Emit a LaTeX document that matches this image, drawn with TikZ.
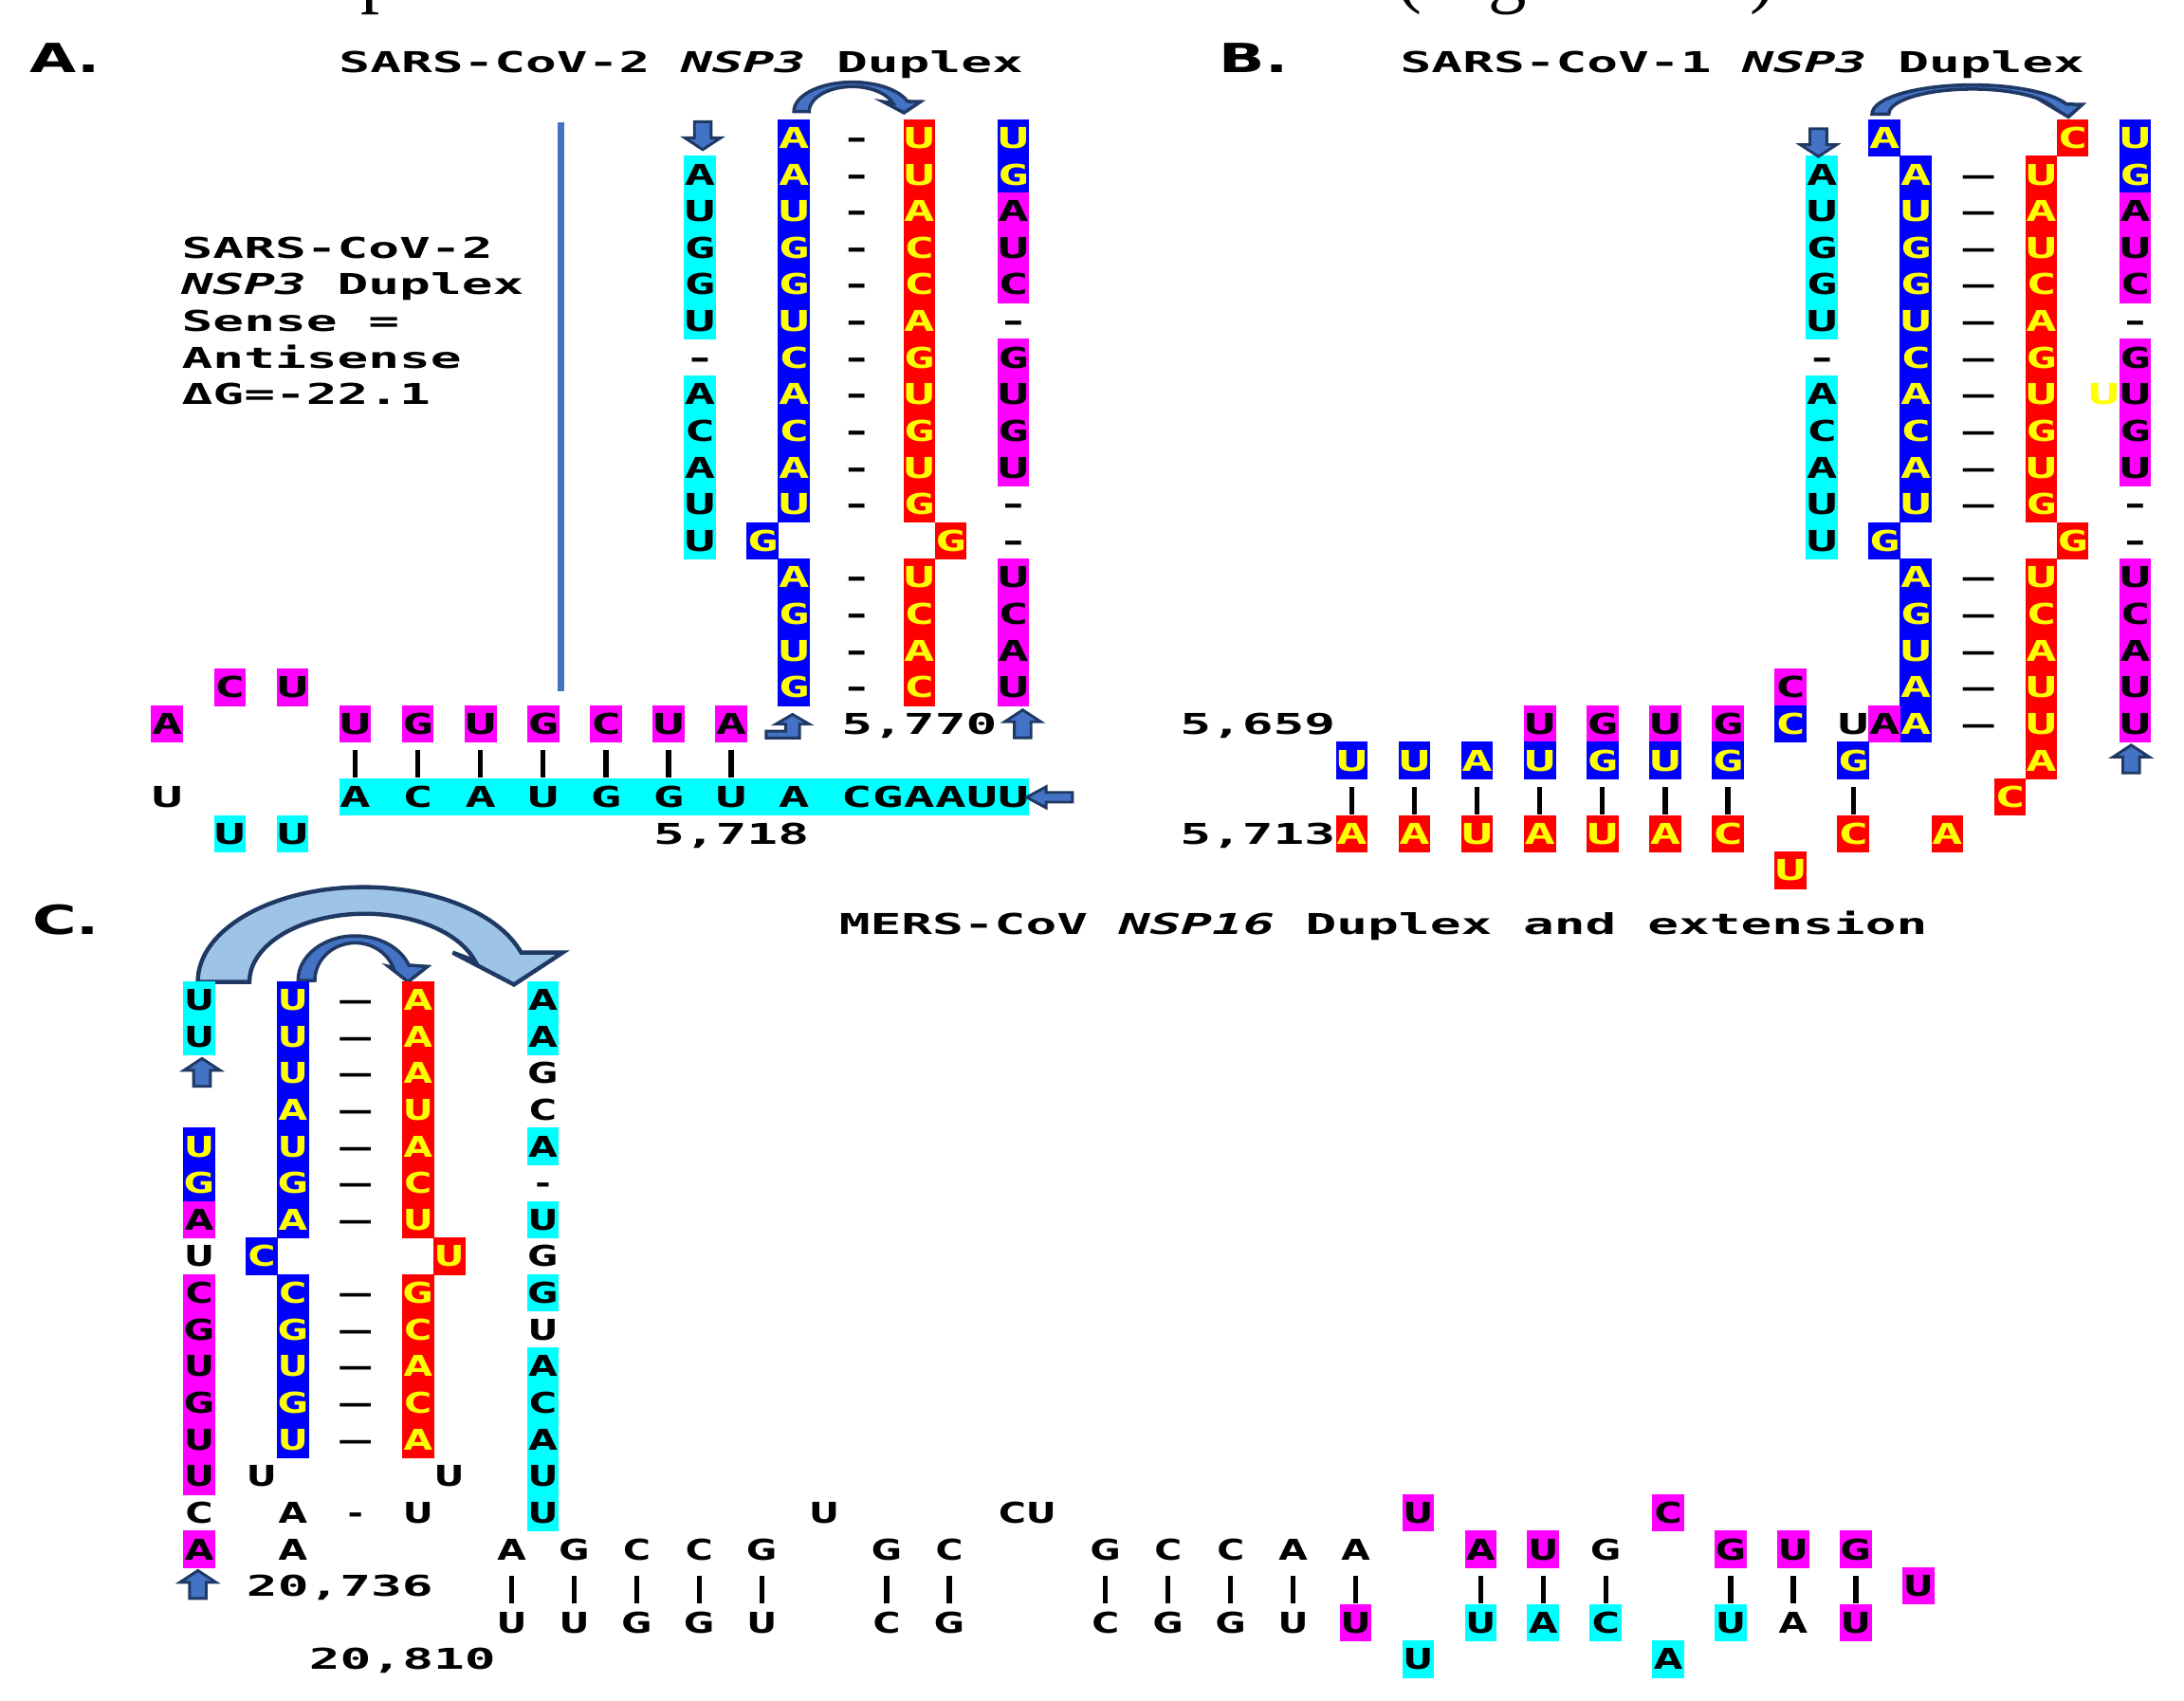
\documentclass[tikz,border=0pt]{standalone}
\usepackage{fontspec}
\newfontfamily\seqfont[FakeStretch=1.8]{DejaVu Sans Mono}
\newfontfamily\verfont[FakeStretch=1.3]{DejaVu Sans}
\newfontfamily\panfont[FakeStretch=1.5]{DejaVu Sans}
\newfontfamily\capfont{Liberation Serif}
\newcommand\cellfont{\seqfont\bfseries\fontsize{10.3}{12}\selectfont}

\definecolor{cycell}{HTML}{00FFFF}
\definecolor{blcell}{HTML}{0000FF}
\definecolor{rdcell}{HTML}{FF0000}
\definecolor{mgcell}{HTML}{FF00FF}
\definecolor{ylw}{HTML}{FFFF00}
\definecolor{navy}{HTML}{1F3864}
\definecolor{arrblue}{HTML}{4472C4}
\definecolor{lightarr}{HTML}{9DC3E6}

\tikzset{
   nt/.style={inner sep=0pt, text height=7.5pt, text depth=0pt, font=\cellfont,
      minimum width=11.45pt, minimum height=13.45pt},
   cy/.style={nt, fill=cycell, text=black},
   bl/.style={nt, fill=blcell, text=ylw},
   rd/.style={nt, fill=rdcell, text=ylw},
   mg/.style={nt, fill=mgcell, text=black},
   tx/.style={nt, text=black},
   yt/.style={nt, text=ylw},
   lbl/.style={inner sep=0pt, text height=7.5pt, text depth=0pt,
      font=\seqfont\bfseries\fontsize{10.3}{12}\selectfont},
   dsh/.style={tx, font=\seqfont\bfseries\fontsize{10.3}{12}\selectfont},
   title/.style={lbl, anchor=base west},
   panlab/.style={inner sep=0pt, anchor=base west,
      font=\panfont\bfseries\fontsize{14.4}{16}\selectfont},
   cut/.style={inner sep=0pt, anchor=base west, font=\capfont\fontsize{27.5}{30}\selectfont},
   pair/.style={line width=1.8pt, shorten <=2.5pt},
   sepline/.style={line width=2.5pt, arrblue},
   blockarr/.style={fill=arrblue, draw=navy, line width=1pt, line join=miter},
   curvearr/.style={fill=arrblue, draw=navy, line width=1.2pt},
   bigarr/.style={fill=lightarr, draw=navy, line width=1.5pt},
   uparr/.pic={
      \path[blockarr, x=0.5pt, y=-0.5pt] (0,-10) -- (13,-1.5) -- (6,-1.5) -- (6,10)
         -- (-6,10) -- (-6,-1.5) -- (-13,-1.5) -- cycle;
   }
}

\begin{document}
\begin{tikzpicture}[x=0.5pt, y=-0.5pt]
   \useasboundingbox (0,0) rectangle (1568,1221);

   % caption line above, cut by the page
   \begin{scope}
      \clip (0,0) rectangle (1568,1221);
      \foreach \x / \l [count=\i] in {259/p, 1002/(, 1068/g, 1256/)} {
         \node[cut] (cut\i) at (\x, -1) {\l};
      }
   \end{scope}

   % panel labels and titles
   \node[panlab] (labA) at (21, 52) {A.};
   \node[panlab] (labB) at (875, 52) {B.};
   \node[panlab] (labC) at (23, 671) {C.};
   \node[title] (titleA) at (243, 52) {SARS-CoV-2 \textit{NSP3} Duplex};
   \node[title] (titleB) at (1005, 52) {SARS-CoV-1 \textit{NSP3} Duplex};
   \node[title] (titleC) at (602, 671) {MERS-CoV \textit{NSP16} Duplex and extension};

   % A. SARS-CoV-2
   \draw[sepline] (402.5, 88) -- (402.5, 496);
   \begin{scope}[shift={(120,99)}, x=11.25pt, y=-13.15pt]
      \def \CellsA {
         17/1/cy/A, 17/2/cy/U, 17/3/cy/G, 17/4/cy/G, 17/5/cy/U, 17/6/tx/-,
         17/7/cy/A, 17/8/cy/C, 17/9/cy/A, 17/10/cy/U, 17/11/cy/U,
         20/0/bl/A, 20/1/bl/A, 20/2/bl/U, 20/3/bl/G, 20/4/bl/G, 20/5/bl/U,
         20/6/bl/C, 20/7/bl/A, 20/8/bl/C, 20/9/bl/A, 20/10/bl/U, 19/11/bl/G,
         20/12/bl/A, 20/13/bl/G, 20/14/bl/U, 20/15/bl/G,
         24/0/rd/U, 24/1/rd/U, 24/2/rd/A, 24/3/rd/C, 24/4/rd/C, 24/5/rd/A,
         24/6/rd/G, 24/7/rd/U, 24/8/rd/G, 24/9/rd/U, 24/10/rd/G, 25/11/rd/G,
         24/12/rd/U, 24/13/rd/C, 24/14/rd/A, 24/15/rd/C,
         27/0/bl/U, 27/1/bl/G, 27/2/mg/A, 27/3/mg/U, 27/4/mg/C, 27/5/tx/-,
         27/6/mg/G, 27/7/mg/U, 27/8/mg/G, 27/9/mg/U, 27/10/tx/-, 27/11/tx/-,
         27/12/mg/U, 27/13/mg/C, 27/14/mg/A, 27/15/mg/U,
         2/15/mg/C, 4/15/mg/U, 0/16/mg/A, 6/16/mg/U, 8/16/mg/G, 10/16/mg/U,
         12/16/mg/G, 14/16/mg/C, 16/16/mg/U, 18/16/mg/A,
         0/18/tx/U, 2/19/cy/U, 4/19/cy/U}
      \fill[cycell] (5.5, 17.5) rectangle (27.5, 18.5);
      \foreach \c / \r / \s / \l in \CellsA {
         \node[\s] (A\c-\r) at (\c, \r) {\l};
      }
      \foreach \c / \l in {6/A, 8/C, 10/A, 12/U, 14/G, 16/G, 18/U, 20/A,
            22/C, 23/G, 24/A, 25/A, 26/U, 27/U} {
         \node[tx] (A\c-18) at (\c, 18) {\l};
      }
      \foreach \r in {0,...,10,12,13,14,15} {
         \node[tx] (Ad-\r) at (22, \r) {-};
      }
      \foreach \c in {6,8,10,12,14,16,18} {
         \draw[pair] (A\c-16) -- (A\c-18);
      }
      \foreach \x / \y / \t / \n in {0.45/3/SARS-CoV-2/t1, 0.45/4/\textit{NSP3} Duplex/t2,
            0.45/5/Sense =/t3, 0.45/6/Antisense/t4, 0.45/7/ΔG=-22.1/t5} {
         \node[lbl, anchor=west] (A\n) at (\x, \y) {\t};
      }
      \node[lbl] (Apos1) at (24, 16) {5,770};
      \node[lbl] (Apos2) at (18, 19) {5,718};
      \pic[rotate=180] at (17.09, -0.06) {uparr};
      \pic at (27.3, 16) {uparr};
   \end{scope}
   \path[blockarr] (550,525) -- (564,525) -- (564,520) -- (557,520) -- (569,513)
      -- (581,520) -- (574,520) -- (574,530) -- (550,530) -- cycle;
   \path[blockarr] (737,572.5) -- (751,565) -- (751,569) -- (770,569) -- (770,576)
      -- (751,576) -- (751,580) -- cycle;
   \path[curvearr] (570,80) arc[start angle=180, end angle=340, x radius=42, y radius=21]
      -- (661,73) -- (649,81) -- (634,73) -- (641,74)
      arc[start angle=340, end angle=180, x radius=31, y radius=18] -- cycle;

   % B. SARS-CoV-1
   \begin{scope}[shift={(1308,99)}, x=11.25pt, y=-13.15pt]
      \def \CellsB {
         0/1/cy/A, 0/2/cy/U, 0/3/cy/G, 0/4/cy/G, 0/5/cy/U, 0/6/tx/-,
         0/7/cy/A, 0/8/cy/C, 0/9/cy/A, 0/10/cy/U, 0/11/cy/U,
         2/0/bl/A, 3/1/bl/A, 3/2/bl/U, 3/3/bl/G, 3/4/bl/G, 3/5/bl/U, 3/6/bl/C,
         3/7/bl/A, 3/8/bl/C, 3/9/bl/A, 3/10/bl/U, 2/11/bl/G, 3/12/bl/A,
         3/13/bl/G, 3/14/bl/U, 3/15/bl/A, 3/16/bl/A,
         8/0/rd/C, 7/1/rd/U, 7/2/rd/A, 7/3/rd/U, 7/4/rd/C, 7/5/rd/A, 7/6/rd/G,
         7/7/rd/U, 7/8/rd/G, 7/9/rd/U, 7/10/rd/G, 8/11/rd/G, 7/12/rd/U,
         7/13/rd/C, 7/14/rd/A, 7/15/rd/U, 7/16/rd/U, 7/17/rd/A, 6/18/rd/C,
         10/0/bl/U, 10/1/bl/G, 10/2/mg/A, 10/3/mg/U, 10/4/mg/C, 10/5/tx/-,
         10/6/mg/G, 10/7/mg/U, 10/8/mg/G, 10/9/mg/U, 10/10/tx/-, 10/11/tx/-,
         10/12/mg/U, 10/13/mg/C, 10/14/mg/A, 10/15/mg/U, 10/16/mg/U, 9/7/yt/U,
         -1/15/mg/C, -9/16/mg/U, -7/16/mg/G, -5/16/mg/U, -3/16/mg/G,
         -1/16/bl/C, 1/16/tx/U, 2/16/mg/A,
         -15/17/bl/U, -13/17/bl/U, -11/17/bl/A, -9/17/bl/U, -7/17/bl/G,
         -5/17/bl/U, -3/17/bl/G, 1/17/bl/G,
         -15/19/rd/A, -13/19/rd/A, -11/19/rd/U, -9/19/rd/A, -7/19/rd/U,
         -5/19/rd/A, -3/19/rd/C, 1/19/rd/C, 4/19/rd/A, -1/20/rd/U}
      \foreach \c / \r / \s / \l in \CellsB {
         \node[\s] (B\c-\r) at (\c, \r) {\l};
      }
      \foreach \r in {1,...,10,12,13,14,15,16} {
         \node[dsh] (Bd-\r) at (5, \r) {–};
      }
      \foreach \c in {-15,-13,-11,-9,-7,-5,-3,1} {
         \draw[pair] (B\c-17) -- (B\c-19);
      }
      \node[lbl] (Bpos1) at (-18, 16) {5,659};
      \node[lbl] (Bpos2) at (-18, 19) {5,713};
      \pic[rotate=180] at (-0.11, 0.13) {uparr};
      \pic at (9.87, 16.96) {uparr};
   \end{scope}
   \path[curvearr] (1344,82) arc[start angle=180, end angle=340, x radius=72, y radius=21]
      -- (1495,75) -- (1485,84) -- (1470,75) -- (1472.4,75.8)
      arc[start angle=340, end angle=180, x radius=60, y radius=18] -- cycle;

   % C. MERS-CoV
   \path[bigarr] (142,705) arc[start angle=180, end angle=342, x radius=119, y radius=68]
      -- (404,684) -- (369,707) -- (325,684) -- (341,690)
      arc[start angle=342, end angle=180, x radius=83, y radius=49] -- cycle;
   \path[curvearr] (214,704) arc[start angle=180, end angle=340, x radius=41, y radius=32]
      -- (307,694) -- (293,705) -- (279,694) -- (282.3,694.8)
      arc[start angle=340, end angle=180, x radius=29, y radius=27] -- cycle;
   \begin{scope}[shift={(143,718)}, x=11.22pt, y=-13.15pt]
      \renewcommand\cellfont{\verfont\bfseries\fontsize{10.3}{12}\selectfont}
      \def \CellsC {
         0/0/cy/U, 0/1/cy/U, 0/4/bl/U, 0/5/bl/G, 0/6/mg/A, 0/7/tx/U, 0/8/mg/C,
         0/9/mg/G, 0/10/mg/U, 0/11/mg/G, 0/12/mg/U, 0/13/mg/U, 0/14/tx/C, 0/15/mg/A,
         3/0/bl/U, 3/1/bl/U, 3/2/bl/U, 3/3/bl/A, 3/4/bl/U, 3/5/bl/G, 3/6/bl/A,
         2/7/bl/C, 3/8/bl/C, 3/9/bl/G, 3/10/bl/U, 3/11/bl/G, 3/12/bl/U,
         2/13/tx/U, 3/14/tx/A, 3/15/tx/A, 5/14/tx/-,
         7/0/rd/A, 7/1/rd/A, 7/2/rd/A, 7/3/rd/U, 7/4/rd/A, 7/5/rd/C, 7/6/rd/U,
         8/7/rd/U, 7/8/rd/G, 7/9/rd/C, 7/10/rd/A, 7/11/rd/C, 7/12/rd/A,
         8/13/tx/U, 7/14/tx/U,
         11/0/cy/A, 11/1/cy/A, 11/2/tx/G, 11/3/tx/C, 11/4/cy/A, 11/5/tx/-,
         11/6/cy/U, 11/7/tx/G, 11/8/cy/G, 11/9/tx/U, 11/10/cy/A, 11/11/cy/C,
         11/12/cy/A, 11/13/cy/U, 11/14/cy/U,
         20/14/tx/U, 39/14/mg/U, 47/14/mg/C,
         10/15/tx/A, 12/15/tx/G, 14/15/tx/C, 16/15/tx/C, 18/15/tx/G,
         22/15/tx/G, 24/15/tx/C, 29/15/tx/G, 31/15/tx/C, 33/15/tx/C,
         35/15/tx/A, 37/15/tx/A, 41/15/mg/A, 43/15/mg/U, 45/15/tx/G,
         49/15/mg/G, 51/15/mg/U, 53/15/mg/G, 55/16/mg/U,
         10/17/tx/U, 12/17/tx/U, 14/17/tx/G, 16/17/tx/G, 18/17/tx/U,
         22/17/tx/C, 24/17/tx/G, 29/17/tx/C, 31/17/tx/G, 33/17/tx/G,
         35/17/tx/U, 37/17/mg/U, 41/17/cy/U, 43/17/cy/A, 45/17/cy/C,
         49/17/cy/U, 51/17/tx/A, 53/17/mg/U, 39/18/cy/U, 47/18/cy/A}
      \foreach \c / \r / \s / \l in \CellsC {
         \node[\s] (C\c-\r) at (\c, \r) {\l};
      }
      \foreach \r in {0,...,6,8,9,10,11,12} {
         \node[dsh] (Cd-\r) at (5, \r) {–};
      }
      \node[tx] (Ccu) at (26.5, 14) {CU};
      \foreach \c in {10,12,14,16,18,22,24,29,31,33,35,37,41,43,45,49,51,53} {
         \draw[pair] (C\c-15) -- (C\c-17);
      }
      \node[lbl] (Cpos1) at (4.5, 16) {20,736};
      \node[lbl] (Cpos2) at (6.5, 18) {20,810};
      \pic at (0.09, 1.98) {uparr};
      \pic at (-0.04, 15.96) {uparr};
   \end{scope}
\end{tikzpicture}
\end{document}
